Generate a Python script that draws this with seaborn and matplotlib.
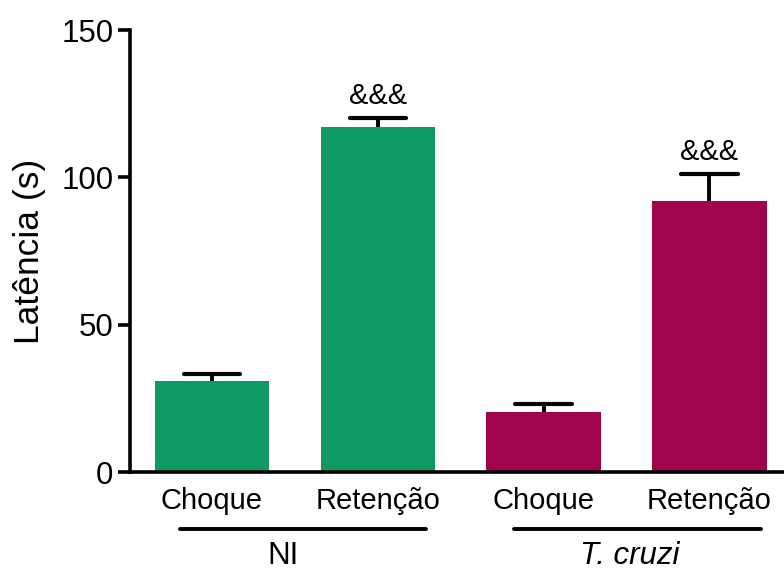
import matplotlib
matplotlib.use("Agg")
import matplotlib.pyplot as plt
import matplotlib.transforms as mtransforms
import seaborn as sns
import pandas as pd

# Mean latency (s) and SEM per condition
keys = ["NI_Choque", "NI_Retencao", "Tc_Choque", "Tc_Retencao"]
tick_labels = ["Choque", "Retenção", "Choque", "Retenção"]
groups = ["NI", "NI", "T. cruzi", "T. cruzi"]
means = [31, 117, 20.5, 92]
sems = [2.3, 3.0, 2.7, 9.0]
marks = ["", "&&&", "", "&&&"]
palette = {"NI": "#0E9A62", "T. cruzi": "#A0054B"}

df = pd.DataFrame({"cond": keys, "group": groups, "lat": means})

sns.set_theme(style="ticks", rc={"text.color": "black", "axes.labelcolor": "black",
                                 "xtick.color": "black", "ytick.color": "black",
                                 "axes.edgecolor": "black"})
plt.rcParams["font.family"] = ["Liberation Sans", "DejaVu Sans"]

fig = plt.figure(figsize=(7.84, 5.72), dpi=100)
ax = fig.add_axes([130 / 784, 1 - 472 / 572, 1 - 130 / 784, 442 / 572])

sns.barplot(data=df, x="cond", y="lat", hue="group", palette=palette,
            order=keys, dodge=False, width=0.69, saturation=1,
            edgecolor="none", legend=False, ax=ax, errorbar=None)

# upper-only SEM bars
cap = 0.17
for i, (m, e, t) in enumerate(zip(means, sems, marks)):
    ax.vlines(i, m, m + e, color="black", lw=2.8, zorder=1)
    ax.hlines(m + e, i - cap, i + cap, color="black", lw=3.0, zorder=3,
              capstyle="round")
    if t:
        ax.annotate(t, (i, m + e), xytext=(0, 6), textcoords="offset points",
                    ha="center", va="bottom", fontsize=21)

ax.set_ylim(0, 150)
ax.set_xlim(-0.494, 3.45)
ax.set_yticks([0, 50, 100, 150])
ax.set_xticks(range(len(keys)))
ax.set_xticklabels(tick_labels, fontsize=21)
ax.tick_params(axis="x", length=0, pad=11)
ax.tick_params(axis="y", labelsize=22.5, length=9, width=2.6, pad=3)
ax.set_xlabel("")
ax.set_ylabel("Latência (s)", fontsize=25.5, labelpad=11)

for s in ["top", "right"]:
    ax.spines[s].set_visible(False)
for s in ["left", "bottom"]:
    ax.spines[s].set_linewidth(2.6)

# group brackets under the condition labels
trans = mtransforms.blended_transform_factory(ax.transData, ax.transAxes)
for (x0, x1, xt, name, style) in [(-0.19, 1.29, 0.43, "NI", "normal"),
                                  (1.82, 3.31, 2.52, "T. cruzi", "italic")]:
    ax.plot([x0, x1], [-0.129, -0.129], color="black", lw=2.8,
            transform=trans, clip_on=False)
    ax.text(xt, -0.19, name, transform=trans, ha="center", va="center",
            fontsize=22.5, style=style)

fig.savefig("out.png", dpi=100)
